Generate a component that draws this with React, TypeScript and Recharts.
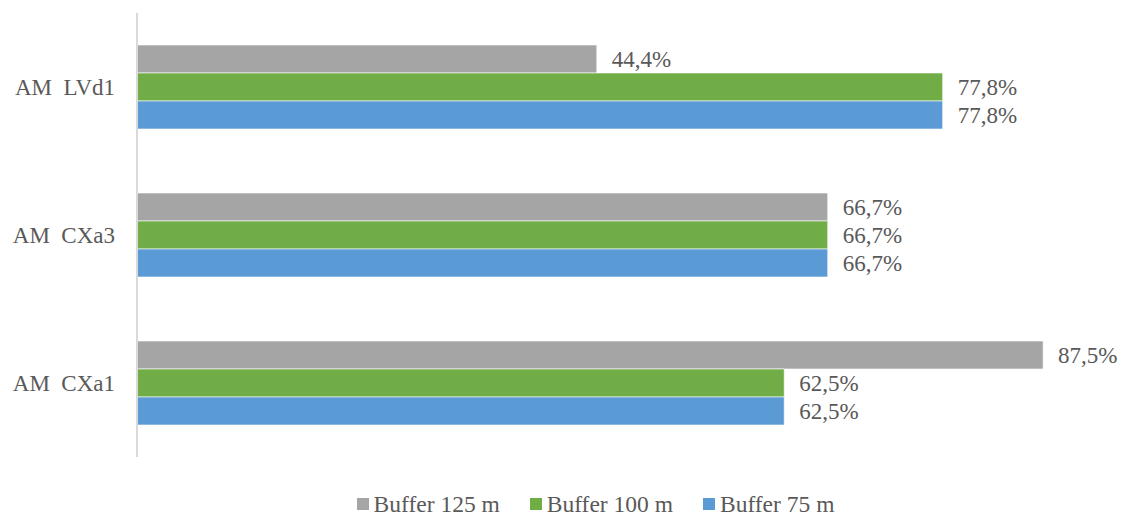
import React from "react";
import {
  BarChart,
  Bar,
  XAxis,
  YAxis,
  Legend,
  LabelList,
} from "recharts";

// nbsp pra manter o espaço duplo do original
const categories = ["AM\u00a0 LVd1", "AM\u00a0 CXa3", "AM\u00a0 CXa1"];
const buffer125 = [44.4, 66.7, 87.5];
const buffer100 = [77.8, 66.7, 62.5];
const buffer75 = [77.8, 66.7, 62.5];

const seriesNames = ["Buffer 125 m", "Buffer 100 m", "Buffer 75 m"];
const seriesColors = ["#a5a5a5", "#70ad47", "#5b9bd5"];

const data = categories.map((name, i) => ({
  name,
  b125: buffer125[i],
  b100: buffer100[i],
  b75: buffer75[i],
}));

const FONT = "'Liberation Serif', 'Times New Roman', serif";
const TEXT = "#595959";
const FS = 23;

const fmt = (v: any) => `${Number(v).toFixed(1).replace(".", ",")}%`;

// legenda feita a mao pra controlar o espaçamento
const CustomLegend = () => (
  <div
    style={{
      height: 58,
      display: "flex",
      justifyContent: "center",
      alignItems: "flex-end",
      paddingLeft: 122,
      boxSizing: "border-box",
      fontFamily: FONT,
      fontSize: 23.5,
      color: TEXT,
      lineHeight: "22px",
    }}
  >
    {seriesNames.map((n, i) => (
      <div
        key={n}
        style={{ display: "flex", alignItems: "center", margin: "0 15px" }}
      >
        <span
          style={{
            width: 12,
            height: 12,
            background: seriesColors[i],
            display: "inline-block",
            marginRight: 5,
          }}
        />
        <span>{n}</span>
      </div>
    ))}
  </div>
);

export default function App() {
  const keys = ["b125", "b100", "b75"];
  return (
    <div style={{ width: 1123, height: 515, background: "#fff" }}>
      <style>{"body{margin:0}"}</style>
      <BarChart
        width={1123}
        height={515}
        data={data}
        layout="vertical"
        margin={{ top: 13, right: 54, left: 0, bottom: 0 }}
        barGap={0}
      >
        <XAxis type="number" domain={[0, 90]} hide />
        <YAxis
          type="category"
          dataKey="name"
          width={137}
          tickLine={false}
          tickSize={0}
          tickMargin={22}
          axisLine={{ stroke: "#d9d9d9", strokeWidth: 2 }}
          tick={{ fill: TEXT, fontSize: FS, fontFamily: FONT }}
        />
        <Legend verticalAlign="bottom" content={<CustomLegend />} />
        {keys.map((k, i) => (
          <Bar
            key={k}
            dataKey={k}
            name={seriesNames[i]}
            fill={seriesColors[i]}
            stroke="#ffffff"
            strokeWidth={0.6}
            barSize={28}
            isAnimationActive={false}
          >
            <LabelList
              dataKey={k}
              position="right"
              offset={15}
              formatter={fmt}
              style={{ fill: TEXT, fontSize: FS, fontFamily: FONT }}
            />
          </Bar>
        ))}
      </BarChart>
    </div>
  );
}
